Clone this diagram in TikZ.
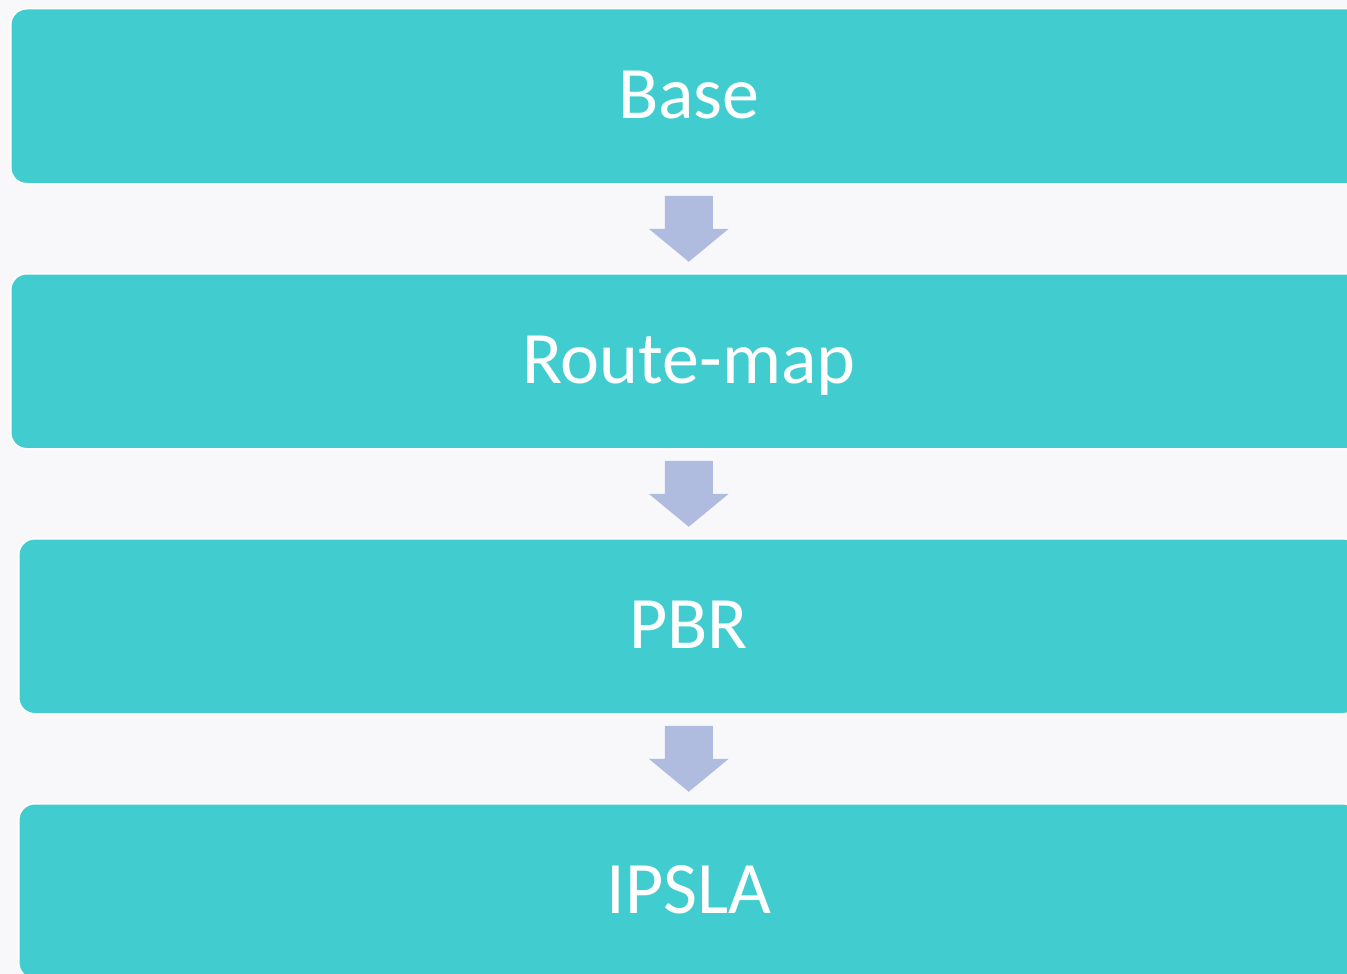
\documentclass[tikz,border=0pt]{standalone}
\usepackage{fontspec}
\setmainfont{Carlito}
\definecolor{bgc}{HTML}{F8F8FB}
\definecolor{boxc}{HTML}{41CDD0}
\definecolor{arrc}{HTML}{AFBCDF}
\begin{document}
\begin{tikzpicture}[x=1pt,y=-1pt,
  stagebox/.style={fill=boxc, draw=white, line width=1.5pt, rounded corners=16pt,
    minimum height=175pt, anchor=north west, inner sep=0pt,
    text=white, font=\fontsize{74}{88}\selectfont, text height=45pt, text depth=0pt},
  blockarrow/.style={fill=arrc, draw=none}]
\useasboundingbox (0,0) rectangle (1347,974);
\fill[bgc] (0,0) rectangle (1347,974);
\clip (0,0) rectangle (1347,974);
\node[stagebox, minimum width=1356pt] (b1) at (10,8) {Base};
\node[stagebox, minimum width=1356pt] (b2) at (10,273) {Route-map};
\node[stagebox, minimum width=1340pt] (b3) at (18,538) {PBR};
\node[stagebox, minimum width=1340pt] (b4) at (18,803) {IPSLA};
\foreach \a/\b/\m in {b1/b2/m1, b2/b3/m2, b3/b4/m3}{
  \path (\a.south) -- (\b.north) coordinate[pos=0.5] (\m);
  \fill[blockarrow] ([shift={(-24,-33)}]\m) -- ([shift={(24,-33)}]\m) -- ([shift={(24,0)}]\m)
    -- ([shift={(40,0)}]\m) -- ([shift={(0,33)}]\m) -- ([shift={(-40,0)}]\m)
    -- ([shift={(-24,0)}]\m) -- cycle;
}
\end{tikzpicture}
\end{document}
